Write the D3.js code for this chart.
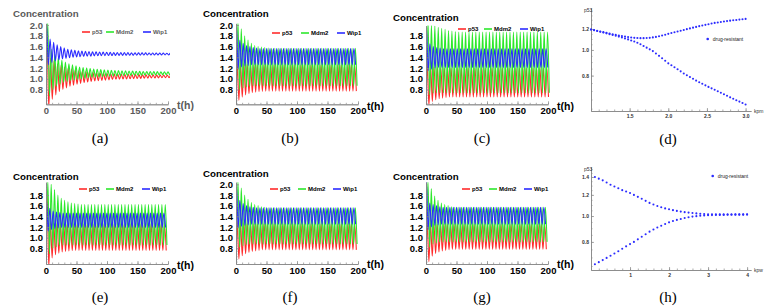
<!DOCTYPE html>
<html>
<head>
<meta charset="utf-8">
<script src="https://cdn.jsdelivr.net/npm/d3@7"></script>
<style>
body { margin: 0; background: #fff; }
svg { display: block; font-family: "Liberation Sans", Arial, sans-serif; }
</style>
</head>
<body>
<script>
// Tick labels and names
var timeTicks = [0, 50, 100, 150, 200];
var timeMinor = d3.range(0, 201, 10);
var concTicksFull = [0.8, 1.0, 1.2, 1.4, 1.6, 1.8, 2.0];
var concTicksShort = [0.8, 1.0, 1.2, 1.4, 1.6, 1.8];
var speciesNames = ['p53', 'Mdm2', 'Wip1'];
var speciesColors = ['#ff2b2b', '#2ce82c', '#2b2bff'];

// Oscillation period (h) of every time panel, and time of the first peak of p53, Mdm2, Wip1
var periods = {a: 5.8, b: 5.5, c: 5.6, e: 5.5, f: 5.5, g: 5.5};
var firstPeak = {a: [1.6, 2.8, 0.9], b: [2.0, 3.2, 0.8], c: [2.0, 3.3, 0.8],
                 e: [1.8, 3.0, 0.8], f: [2.0, 3.2, 0.8], g: [2.0, 3.2, 0.7]};
var startValue = 0.3;

// Peak (hi) and trough (lo) value of each cycle
var a_p53_hi = [1.95,1.38,1.33,1.28,1.25,1.22,1.20,1.18,1.165,1.15,1.14,1.13,
                1.12,1.115,1.11,1.105,1.10,1.097,1.094,1.091,1.088,1.086,1.084,1.082,
                1.08,1.078,1.077,1.076,1.075,1.074,1.073,1.072,1.071,1.07,1.07,1.07];
var a_p53_lo = [0.45,0.62,0.70,0.76,0.80,0.83,0.86,0.88,0.90,0.915,0.93,0.94,
                0.95,0.96,0.965,0.97,0.975,0.98,0.985,0.99,0.992,0.995,0.998,1.0,
                1.003,1.005,1.007,1.01,1.012,1.014,1.015,1.016,1.018,1.02,1.02,1.02];
var a_mdm2_hi = [2.06,1.55,1.46,1.40,1.35,1.31,1.28,1.26,1.24,1.22,1.21,1.20,
                 1.19,1.18,1.175,1.17,1.165,1.16,1.157,1.154,1.151,1.148,1.146,1.144,
                 1.142,1.14,1.138,1.136,1.135,1.134,1.133,1.132,1.131,1.13,1.13,1.13];
var a_mdm2_lo = [0.68,0.80,0.86,0.90,0.93,0.95,0.97,0.98,0.99,1.0,1.01,1.02,
                 1.025,1.03,1.035,1.04,1.045,1.048,1.051,1.054,1.057,1.06,1.062,1.064,
                 1.066,1.067,1.068,1.069,1.07,1.071,1.072,1.073,1.074,1.075,1.075,1.075];
var a_wip1_hi = [2.02,1.74,1.68,1.63,1.60,1.57,1.55,1.54,1.53,1.52,1.515,1.51,
                 1.505,1.50,1.50,1.497,1.495,1.493,1.491,1.49,1.489,1.488,1.487,1.486,
                 1.485,1.484,1.483,1.482,1.481,1.48,1.48,1.479,1.478,1.477,1.476,1.475];
var a_wip1_lo = [1.26,1.30,1.33,1.35,1.37,1.38,1.39,1.40,1.405,1.41,1.415,1.42,
                 1.422,1.425,1.427,1.43,1.431,1.432,1.433,1.434,1.435,1.436,1.437,1.438,
                 1.439,1.44,1.44,1.441,1.441,1.442,1.442,1.443,1.443,1.444,1.444,1.445];

var b_p53_hi = [1.30,1.29,1.28,1.27,1.265,1.26,1.26,1.26,1.26,1.26,1.26,1.26,
                1.26,1.26,1.26,1.26,1.26,1.26,1.26,1.26,1.26,1.26,1.26,1.26,
                1.26,1.26,1.26,1.26,1.26,1.26,1.26,1.26,1.26,1.26,1.26,1.26];
var b_p53_lo = [0.60,0.66,0.70,0.72,0.74,0.75,0.76,0.765,0.77,0.77,0.77,0.77,
                0.77,0.77,0.77,0.77,0.77,0.77,0.77,0.77,0.77,0.77,0.77,0.77,
                0.77,0.77,0.77,0.77,0.77,0.77,0.77,0.77,0.77,0.77,0.77,0.77];
var b_mdm2_hi = [2.06,1.93,1.80,1.72,1.66,1.62,1.60,1.59,1.58,1.57,1.565,1.565,
                 1.565,1.565,1.565,1.565,1.565,1.565,1.565,1.565,1.565,1.565,1.565,1.565,
                 1.565,1.565,1.565,1.565,1.565,1.565,1.565,1.565,1.565,1.565,1.565,1.565];
var b_mdm2_lo = [0.80,0.83,0.85,0.86,0.87,0.87,0.87,0.87,0.87,0.87,0.87,0.87,
                 0.87,0.87,0.87,0.87,0.87,0.87,0.87,0.87,0.87,0.87,0.87,0.87,
                 0.87,0.87,0.87,0.87,0.87,0.87,0.87,0.87,0.87,0.87,0.87,0.87];
var b_wip1_hi = [1.95,1.72,1.66,1.62,1.60,1.58,1.57,1.56,1.56,1.56,1.56,1.56,
                 1.56,1.56,1.56,1.56,1.56,1.56,1.56,1.56,1.56,1.56,1.56,1.56,
                 1.56,1.56,1.56,1.56,1.56,1.56,1.56,1.56,1.56,1.56,1.56,1.56];
var b_wip1_lo = [1.18,1.22,1.24,1.25,1.26,1.26,1.26,1.26,1.26,1.26,1.26,1.26,
                 1.26,1.26,1.26,1.26,1.26,1.26,1.26,1.26,1.26,1.26,1.26,1.26,
                 1.26,1.26,1.26,1.26,1.26,1.26,1.26,1.26,1.26,1.26,1.26,1.26];

var c_p53_hi = [1.30,1.24,1.22,1.21,1.20,1.20,1.20,1.20,1.20,1.20,1.20,1.20,
                1.20,1.20,1.20,1.20,1.20,1.20,1.20,1.20,1.20,1.20,1.20,1.20,
                1.20,1.20,1.20,1.20,1.20,1.20,1.20,1.20,1.20,1.20,1.20,1.20];
var c_p53_lo = [0.50,0.58,0.61,0.63,0.64,0.65,0.66,0.66,0.66,0.66,0.66,0.66,
                0.66,0.66,0.66,0.66,0.66,0.66,0.66,0.66,0.66,0.66,0.66,0.66,
                0.66,0.66,0.66,0.66,0.66,0.66,0.66,0.66,0.66,0.66,0.66,0.66];
var c_mdm2_hi = [2.06,2.00,1.98,1.96,1.94,1.92,1.90,1.89,1.88,1.87,1.87,1.87,
                 1.87,1.87,1.87,1.87,1.87,1.87,1.87,1.87,1.87,1.87,1.87,1.87,
                 1.87,1.87,1.87,1.87,1.87,1.87,1.87,1.87,1.87,1.87,1.87,1.87];
var c_mdm2_lo = [0.70,0.73,0.74,0.74,0.74,0.74,0.74,0.74,0.74,0.74,0.74,0.74,
                 0.74,0.74,0.74,0.74,0.74,0.74,0.74,0.74,0.74,0.74,0.74,0.74,
                 0.74,0.74,0.74,0.74,0.74,0.74,0.74,0.74,0.74,0.74,0.74,0.74];
var c_wip1_hi = [1.93,1.65,1.60,1.58,1.57,1.56,1.56,1.56,1.56,1.56,1.56,1.56,
                 1.56,1.56,1.56,1.56,1.56,1.56,1.56,1.56,1.56,1.56,1.56,1.56,
                 1.56,1.56,1.56,1.56,1.56,1.56,1.56,1.56,1.56,1.56,1.56,1.56];
var c_wip1_lo = [1.15,1.18,1.20,1.21,1.21,1.21,1.21,1.21,1.21,1.21,1.21,1.21,
                 1.21,1.21,1.21,1.21,1.21,1.21,1.21,1.21,1.21,1.21,1.21,1.21,
                 1.21,1.21,1.21,1.21,1.21,1.21,1.21,1.21,1.21,1.21,1.21,1.21];

var e_p53_hi = [1.85,1.30,1.28,1.27,1.26,1.25,1.25,1.25,1.25,1.25,1.25,1.25,
                1.25,1.25,1.25,1.25,1.25,1.25,1.25,1.25,1.25,1.25,1.25,1.25,
                1.25,1.25,1.25,1.25,1.25,1.25,1.25,1.25,1.25,1.25,1.25,1.25];
var e_p53_lo = [0.45,0.62,0.68,0.71,0.73,0.74,0.75,0.755,0.76,0.76,0.76,0.76,
                0.76,0.76,0.76,0.76,0.76,0.76,0.76,0.76,0.76,0.76,0.76,0.76,
                0.76,0.76,0.76,0.76,0.76,0.76,0.76,0.76,0.76,0.76,0.76,0.76];
var e_mdm2_hi = [2.06,2.00,1.90,1.80,1.74,1.70,1.67,1.65,1.64,1.63,1.62,1.62,
                 1.62,1.62,1.62,1.62,1.62,1.62,1.62,1.62,1.62,1.62,1.62,1.62,
                 1.62,1.62,1.62,1.62,1.62,1.62,1.62,1.62,1.62,1.62,1.62,1.62];
var e_mdm2_lo = [0.70,0.80,0.83,0.85,0.86,0.86,0.86,0.86,0.86,0.86,0.86,0.86,
                 0.86,0.86,0.86,0.86,0.86,0.86,0.86,0.86,0.86,0.86,0.86,0.86,
                 0.86,0.86,0.86,0.86,0.86,0.86,0.86,0.86,0.86,0.86,0.86,0.86];
var e_wip1_hi = [1.70,1.55,1.50,1.48,1.47,1.46,1.46,1.46,1.46,1.46,1.46,1.46,
                 1.46,1.46,1.46,1.46,1.46,1.46,1.46,1.46,1.46,1.46,1.46,1.46,
                 1.46,1.46,1.46,1.46,1.46,1.46,1.46,1.46,1.46,1.46,1.46,1.46];
var e_wip1_lo = [1.12,1.15,1.17,1.18,1.19,1.19,1.19,1.19,1.19,1.19,1.19,1.19,
                 1.19,1.19,1.19,1.19,1.19,1.19,1.19,1.19,1.19,1.19,1.19,1.19,
                 1.19,1.19,1.19,1.19,1.19,1.19,1.19,1.19,1.19,1.19,1.19,1.19];

var f_p53_hi = [1.30,1.29,1.28,1.27,1.26,1.26,1.26,1.26,1.26,1.26,1.26,1.26,
                1.26,1.26,1.26,1.26,1.26,1.26,1.26,1.26,1.26,1.26,1.26,1.26,
                1.26,1.26,1.26,1.26,1.26,1.26,1.26,1.26,1.26,1.26,1.26,1.26];
var f_p53_lo = [0.60,0.66,0.70,0.72,0.74,0.75,0.76,0.77,0.77,0.77,0.77,0.77,
                0.77,0.77,0.77,0.77,0.77,0.77,0.77,0.77,0.77,0.77,0.77,0.77,
                0.77,0.77,0.77,0.77,0.77,0.77,0.77,0.77,0.77,0.77,0.77,0.77];
var f_mdm2_hi = [2.06,1.93,1.80,1.72,1.66,1.62,1.60,1.58,1.57,1.56,1.56,1.56,
                 1.56,1.56,1.56,1.56,1.56,1.56,1.56,1.56,1.56,1.56,1.56,1.56,
                 1.56,1.56,1.56,1.56,1.56,1.56,1.56,1.56,1.56,1.56,1.56,1.56];
var f_mdm2_lo = [0.82,0.85,0.87,0.88,0.88,0.88,0.88,0.88,0.88,0.88,0.88,0.88,
                 0.88,0.88,0.88,0.88,0.88,0.88,0.88,0.88,0.88,0.88,0.88,0.88,
                 0.88,0.88,0.88,0.88,0.88,0.88,0.88,0.88,0.88,0.88,0.88,0.88];
var f_wip1_hi = [1.95,1.70,1.64,1.60,1.58,1.57,1.56,1.56,1.56,1.56,1.56,1.56,
                 1.56,1.56,1.56,1.56,1.56,1.56,1.56,1.56,1.56,1.56,1.56,1.56,
                 1.56,1.56,1.56,1.56,1.56,1.56,1.56,1.56,1.56,1.56,1.56,1.56];
var f_wip1_lo = [1.18,1.21,1.23,1.24,1.25,1.25,1.25,1.25,1.25,1.25,1.25,1.25,
                 1.25,1.25,1.25,1.25,1.25,1.25,1.25,1.25,1.25,1.25,1.25,1.25,
                 1.25,1.25,1.25,1.25,1.25,1.25,1.25,1.25,1.25,1.25,1.25,1.25];

var g_p53_hi = [1.30,1.27,1.26,1.25,1.25,1.25,1.25,1.25,1.25,1.25,1.25,1.25,
                1.25,1.25,1.25,1.25,1.25,1.25,1.25,1.25,1.25,1.25,1.25,1.25,
                1.25,1.25,1.25,1.25,1.25,1.25,1.25,1.25,1.25,1.25,1.25,1.25];
var g_p53_lo = [0.55,0.65,0.70,0.73,0.75,0.76,0.77,0.78,0.78,0.78,0.78,0.78,
                0.78,0.78,0.78,0.78,0.78,0.78,0.78,0.78,0.78,0.78,0.78,0.78,
                0.78,0.78,0.78,0.78,0.78,0.78,0.78,0.78,0.78,0.78,0.78,0.78];
var g_mdm2_hi = [2.06,1.92,1.78,1.70,1.65,1.62,1.60,1.58,1.57,1.57,1.57,1.57,
                 1.57,1.57,1.57,1.57,1.57,1.57,1.57,1.57,1.57,1.57,1.57,1.57,
                 1.57,1.57,1.57,1.57,1.57,1.57,1.57,1.57,1.57,1.57,1.57,1.57];
var g_mdm2_lo = [0.82,0.88,0.90,0.92,0.92,0.92,0.92,0.92,0.92,0.92,0.92,0.92,
                 0.92,0.92,0.92,0.92,0.92,0.92,0.92,0.92,0.92,0.92,0.92,0.92,
                 0.92,0.92,0.92,0.92,0.92,0.92,0.92,0.92,0.92,0.92,0.92,0.92];
var g_wip1_hi = [2.04,1.65,1.62,1.60,1.58,1.57,1.57,1.57,1.57,1.57,1.57,1.57,
                 1.57,1.57,1.57,1.57,1.57,1.57,1.57,1.57,1.57,1.57,1.57,1.57,
                 1.57,1.57,1.57,1.57,1.57,1.57,1.57,1.57,1.57,1.57,1.57,1.57];
var g_wip1_lo = [1.15,1.20,1.23,1.24,1.25,1.25,1.25,1.25,1.25,1.25,1.25,1.25,
                 1.25,1.25,1.25,1.25,1.25,1.25,1.25,1.25,1.25,1.25,1.25,1.25,
                 1.25,1.25,1.25,1.25,1.25,1.25,1.25,1.25,1.25,1.25,1.25,1.25];

// Bifurcation panels: p53 of the two branches against kpm (d) and kpw (h)
var d_kpm = d3.range(0, 51).map(function (i) { return +(1 + i * 0.04).toFixed(2); });
var d_upper = [1.195,1.188,1.181,1.174,1.167,1.160,1.153,1.146,1.140,1.134,1.128,1.123,1.118,
               1.114,1.111,1.109,1.108,1.108,1.109,1.111,1.115,1.120,1.126,1.133,1.141,1.150,
               1.158,1.166,1.174,1.182,1.190,1.198,1.206,1.214,1.222,1.230,1.237,1.244,1.251,
               1.258,1.265,1.270,1.275,1.280,1.285,1.290,1.294,1.298,1.302,1.306,1.310];
var d_lower = [1.195,1.187,1.179,1.171,1.163,1.155,1.147,1.139,1.131,1.123,1.114,1.105,1.096,
               1.086,1.076,1.065,1.050,1.035,1.020,1.005,0.990,0.970,0.950,0.930,0.910,0.890,
               0.875,0.860,0.845,0.830,0.815,0.802,0.790,0.778,0.766,0.755,0.745,0.735,0.725,
               0.716,0.707,0.698,0.689,0.680,0.671,0.662,0.654,0.646,0.638,0.630,0.622];
var h_kpw = d3.range(1, 41).map(function (i) { return +(i * 0.1).toFixed(1); });
var h_upper = [1.40,1.38,1.36,1.335,1.31,1.29,1.27,1.25,1.235,1.22,1.20,1.18,1.16,1.14,
               1.12,1.105,1.09,1.078,1.068,1.06,1.052,1.045,1.039,1.034,1.03,1.026,1.023,
               1.02,1.018,1.016,1.015,1.015,1.014,1.014,1.014,1.014,1.014,1.014,1.014,1.014];
var h_lower = [0.66,0.672,0.684,0.697,0.71,0.724,0.738,0.754,0.77,0.785,0.80,0.818,0.836,
               0.855,0.874,0.89,0.906,0.92,0.934,0.947,0.958,0.967,0.975,0.983,0.99,0.995,
               0.999,1.002,1.005,1.007,1.008,1.009,1.01,1.01,1.011,1.011,1.012,1.012,1.012,1.013];

var oscData = {
    a: [[a_p53_hi, a_p53_lo], [a_mdm2_hi, a_mdm2_lo], [a_wip1_hi, a_wip1_lo]],
    b: [[b_p53_hi, b_p53_lo], [b_mdm2_hi, b_mdm2_lo], [b_wip1_hi, b_wip1_lo]],
    c: [[c_p53_hi, c_p53_lo], [c_mdm2_hi, c_mdm2_lo], [c_wip1_hi, c_wip1_lo]],
    e: [[e_p53_hi, e_p53_lo], [e_mdm2_hi, e_mdm2_lo], [e_wip1_hi, e_wip1_lo]],
    f: [[f_p53_hi, f_p53_lo], [f_mdm2_hi, f_mdm2_lo], [f_wip1_hi, f_wip1_lo]],
    g: [[g_p53_hi, g_p53_lo], [g_mdm2_hi, g_mdm2_lo], [g_wip1_hi, g_wip1_lo]]
};

// Where each time panel sits on the page
var rowTop = {dom: [0.525, 2.03], rng: [104.3, 23.4]};
var rowBot = {dom: [0.505, 2.04], rng: [264, 182.2]};
var layouts = {
    a: {x0: 46, row: rowTop, ticks: concTicksFull, title: [13, 17.3], tLab: [177, 109], leg: [82, 106, 143], legY: 32, cap: [100, 143], ink: '#5a5a5a'},
    b: {x0: 236, row: rowTop, ticks: concTicksFull, title: [203, 17.3], tLab: [367, 110], leg: [272, 301, 337], legY: 33, cap: [290, 143], ink: '#000'},
    c: {x0: 426, row: {dom: [0.525, 1.99], rng: [104.3, 25.6]}, ticks: concTicksShort, title: [393, 21], tLab: [557, 110], leg: [458, 484, 520], legY: 29, cap: [482, 143], ink: '#000'},
    e: {x0: 46, row: rowBot, ticks: concTicksShort, title: [13, 179.5], tLab: [177, 268.5], leg: [79, 106, 142], legY: 189, cap: [100, 302], ink: '#000'},
    f: {x0: 236, row: rowBot, ticks: concTicksFull, title: [203, 176.6], tLab: [367, 268], leg: [270, 298, 333], legY: 189, cap: [290, 302], ink: '#000'},
    g: {x0: 426, row: rowBot, ticks: concTicksShort, title: [393, 179.5], tLab: [557, 268], leg: [462, 489, 524], legY: 189, cap: [482, 302], ink: '#000'}
};

var svg = d3.select('body').append('svg').attr('width', 770).attr('height', 307);

function styleAxis(sel, size, ink) {
    sel.attr('font-family', null).attr('font-size', null);
    sel.select('.domain').attr('stroke', '#888').attr('stroke-width', 0.8);
    sel.selectAll('.tick line').attr('stroke', '#888').attr('stroke-width', 0.7);
    sel.selectAll('text').attr('font-size', size).attr('font-weight', 'bold').attr('fill', ink);
}

function drawTimePanel(key) {
    var L = layouts[key];
    var x = d3.scaleLinear().domain([0, 200]).range([L.x0, L.x0 + 122]);
    var y = d3.scaleLinear().domain(L.row.dom).range(L.row.rng);
    var yb = L.row.rng[0], yt = L.row.rng[1];

    svg.append('clipPath').attr('id', 'clip-' + key)
        .append('rect').attr('x', L.x0).attr('y', yt).attr('width', 124).attr('height', yb - yt);

    var line = d3.line()
        .x(function (d) { return x(d[0]); })
        .y(function (d) { return y(d[1]); })
        .curve(d3.curveMonotoneX);

    var T = periods[key];
    oscData[key].forEach(function (s, i) {
        var t0 = firstPeak[key][i];
        var pts = [[0, startValue]];
        s[0].forEach(function (v, k) {
            pts.push([t0 + k * T, v]);
            pts.push([t0 + (k + 0.5) * T, s[1][k]]);
        });
        svg.append('path')
            .attr('clip-path', 'url(#clip-' + key + ')')
            .attr('d', line(pts))
            .attr('fill', 'none')
            .attr('stroke', speciesColors[i])
            .attr('stroke-width', 1.1);
    });

    // axes: minor ticks, then labelled ticks
    svg.append('g').attr('transform', 'translate(0,' + yb + ')')
        .call(d3.axisBottom(x).tickValues(timeMinor).tickSize(-1.5).tickSizeOuter(0).tickFormat(''))
        .call(styleAxis, 9.5, L.ink);
    svg.append('g').attr('transform', 'translate(0,' + yb + ')')
        .call(d3.axisBottom(x).tickValues(timeTicks).tickSize(-3).tickSizeOuter(0).tickPadding(3))
        .call(styleAxis, 9.5, L.ink);
    var minorY = d3.range(0.55, L.row.dom[1], 0.05);
    svg.append('g').attr('transform', 'translate(' + L.x0 + ',0)')
        .call(d3.axisLeft(y).tickValues(minorY).tickSize(-1.5).tickSizeOuter(0).tickFormat(''))
        .call(styleAxis, 9.5, L.ink);
    svg.append('g').attr('transform', 'translate(' + L.x0 + ',0)')
        .call(d3.axisLeft(y).tickValues(L.ticks).tickSize(-3).tickSizeOuter(0).tickPadding(3).tickFormat(d3.format('.1f')))
        .call(styleAxis, 9.5, L.ink);

    svg.append('text').attr('x', L.title[0]).attr('y', L.title[1])
        .attr('font-size', 9.7).attr('font-weight', 'bold').attr('fill', L.ink)
        .text('Concentration');
    svg.append('text').attr('x', L.tLab[0]).attr('y', L.tLab[1])
        .attr('font-size', 10.5).attr('font-weight', 'bold').attr('fill', L.ink)
        .text('t(h)');

    // legend
    speciesNames.forEach(function (name, i) {
        var lx = L.leg[i];
        svg.append('line').attr('x1', lx).attr('x2', lx + 8).attr('y1', L.legY).attr('y2', L.legY)
            .attr('stroke', speciesColors[i]).attr('stroke-width', 1.6);
        svg.append('text').attr('x', lx + 10).attr('y', L.legY + 2.2)
            .attr('font-size', 6).attr('font-weight', 'bold').attr('fill', L.ink)
            .text(name);
    });

    svg.append('text').attr('x', L.cap[0]).attr('y', L.cap[1])
        .attr('text-anchor', 'middle').attr('font-family', '"Liberation Serif", "Times New Roman", serif')
        .attr('font-size', 15).text('(' + key + ')');
}

function drawBranchPanel(opts) {
    var x = d3.scaleLinear().domain(opts.xDom).range([591, 751]);
    var y = d3.scaleLog().domain(opts.yDom).range([opts.yb, opts.yb - 103]);

    svg.append('g').attr('transform', 'translate(0,' + opts.yb + ')')
        .call(d3.axisBottom(x).tickValues(opts.xMinor).tickSize(-1.5).tickSizeOuter(0).tickFormat(''))
        .call(styleAxis, 5, '#333');
    svg.append('g').attr('transform', 'translate(0,' + opts.yb + ')')
        .call(d3.axisBottom(x).tickValues(opts.xTicks).tickSize(-3).tickSizeOuter(0).tickPadding(3).tickFormat(d3.format(opts.xFmt)))
        .call(styleAxis, 5, '#333');
    svg.append('g').attr('transform', 'translate(591,0)')
        .call(d3.axisLeft(y).tickValues(opts.yMinor).tickSize(-1.5).tickSizeOuter(0).tickFormat(''))
        .call(styleAxis, 5, '#333');
    svg.append('g').attr('transform', 'translate(591,0)')
        .call(d3.axisLeft(y).tickValues(opts.yTicks).tickSize(-3).tickSizeOuter(0).tickPadding(2).tickFormat(d3.format('.1f')))
        .call(styleAxis, 5, '#333');

    [opts.upper, opts.lower].forEach(function (vals) {
        svg.append('g').selectAll('circle')
            .data(vals)
            .enter()
            .append('circle')
            .attr('cx', function (d, i) { return x(opts.xs[i]); })
            .attr('cy', function (d) { return y(d); })
            .attr('r', 1.05)
            .attr('fill', '#2b2bff');
    });

    svg.append('text').attr('x', 584).attr('y', opts.yb - 99).attr('font-size', 5).attr('fill', '#333').text('p53');
    svg.append('text').attr('x', 754).attr('y', opts.yb + 2).attr('font-size', 5).attr('fill', '#333').text(opts.xName);
    svg.append('circle').attr('cx', opts.leg[0]).attr('cy', opts.leg[1]).attr('r', 1.3).attr('fill', '#2b2bff');
    svg.append('text').attr('x', opts.leg[0] + 5).attr('y', opts.leg[1] + 1.7)
        .attr('font-size', 5).attr('fill', '#222').text('drug-resistant');
    svg.append('text').attr('x', 668).attr('y', opts.cap)
        .attr('text-anchor', 'middle').attr('font-family', '"Liberation Serif", "Times New Roman", serif')
        .attr('font-size', 15).text('(' + opts.key + ')');
}

['a', 'b', 'c', 'e', 'f', 'g'].forEach(drawTimePanel);

drawBranchPanel({key: 'd', xs: d_kpm, upper: d_upper, lower: d_lower, xDom: [1.0, 3.07], yDom: [0.588, 1.44], yb: 111,
    xTicks: [1.5, 2.0, 2.5, 3.0], xFmt: '.1f', xMinor: d3.range(1.0, 3.05, 0.1),
    yTicks: [0.8, 1.0, 1.2], yMinor: d3.range(0.6, 1.44, 0.05), xName: 'kpm', leg: [707.7, 39], cap: 144});
drawBranchPanel({key: 'h', xs: h_kpw, upper: h_upper, lower: h_lower, xDom: [0, 4.1], yDom: [0.628, 1.526], yb: 270,
    xTicks: [1, 2, 3, 4], xFmt: 'd', xMinor: d3.range(0, 4.1, 0.2),
    yTicks: [0.8, 1.0, 1.2, 1.4], yMinor: d3.range(0.65, 1.52, 0.05), xName: 'kpw', leg: [712.7, 176], cap: 302});
</script>
</body>
</html>
